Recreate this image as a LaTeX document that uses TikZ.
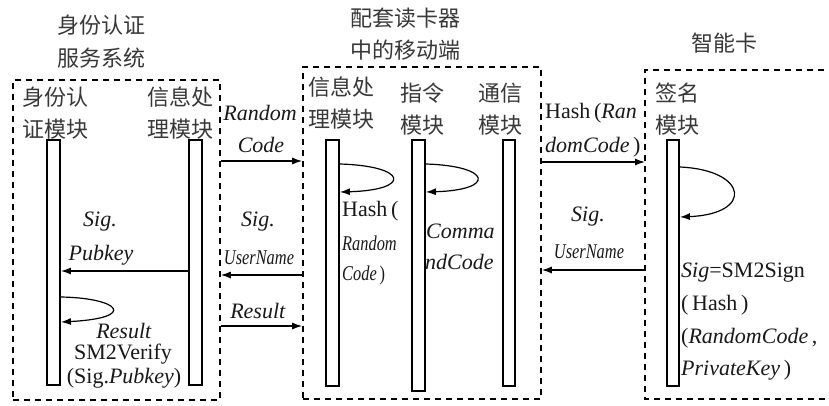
\documentclass[tikz,border=0pt]{standalone}
\usepackage{fontspec}
\setmainfont{Liberation Serif}
\newfontfamily\cjk{Noto Sans CJK SC}
\usetikzlibrary{arrows.meta}
% narrow italic used for the condensed labels
\newcommand{\narrowtext}[1]{\scalebox{0.78}[1]{#1}}

\begin{document}
\begin{tikzpicture}[x=1pt,y=-1pt,
  lifeline/.style={draw, line width=1.8pt, fill=white, rectangle, minimum width=13pt, inner sep=0pt},
  dashbox/.style={draw, line width=1.6pt, dash pattern=on 6pt off 5pt, rectangle, inner sep=0pt},
  msg/.style={line width=1.3pt, -{Latex[length=10pt,width=7pt]}},
  selfloop/.style={line width=1.2pt, -{Latex[length=10pt,width=7pt]}},
  cn/.style={font=\cjk\fontsize{22}{22}\selectfont, inner sep=0pt, text=black!78},
  lbl/.style={font=\fontsize{22}{22}\selectfont, inner sep=0pt, text=black!90},
  lbln/.style={font=\fontsize{21}{21}\selectfont, inner sep=0pt, text=black!90},
]
\useasboundingbox[fill=white] (0,0) rectangle (829,405);

% ---- group frames ----
\node[dashbox, minimum width=207pt, minimum height=320pt] (B1) at (116.5,240) {};
\node[dashbox, minimum width=238pt, minimum height=332pt] (B2) at (422,233) {};
\coordinate (B3nw) at (645,70);
\coordinate (B3sw) at (645,399);
\draw[line width=1.6pt, dash pattern=on 6pt off 5pt] (835,70) -- (B3nw) -- (B3sw) -- (835,399);

% ---- group titles ----
\node[cn] (t1a) at (101,25) {身份认证};
\node[cn] (t1b) at (101,58) {服务系统};
\node[cn] (t2a) at (405,18) {配套读卡器};
\node[cn] (t2b) at (405,50) {中的移动端};
\node[cn] (t3a) at (724,43) {智能卡};

% ---- module names ----
\node[cn, anchor=west] (m1a) at (22,97) {身份认};
\node[cn, anchor=west] (m1b) at (22,129) {证模块};
\node[cn, anchor=west] (m2a) at (147,97) {信息处};
\node[cn, anchor=west] (m2b) at (147,129) {理模块};
\node[cn, anchor=west] (m3a) at (308,87) {信息处};
\node[cn, anchor=west] (m3b) at (308,119) {理模块};
\node[cn, anchor=west] (m4a) at (400,93) {指令};
\node[cn, anchor=west] (m4b) at (400,125) {模块};
\node[cn, anchor=west] (m5a) at (478,93) {通信};
\node[cn, anchor=west] (m5b) at (478,125) {模块};
\node[cn, anchor=west] (m6a) at (655,93) {签名};
\node[cn, anchor=west] (m6b) at (655,125) {模块};

% ---- lifelines ----
\node[lifeline, minimum height=245pt] (L1) at (53.5,262.5) {};
\node[lifeline, minimum height=245pt] (L2) at (195.5,262.5) {};
\node[lifeline, minimum height=246pt] (L3) at (332.5,263) {};
\node[lifeline, minimum height=251pt] (L4) at (418.5,265.5) {};
\node[lifeline, minimum width=12pt, minimum height=246pt] (L5) at (509,263) {};
\node[lifeline, minimum width=12pt, minimum height=246pt] (L6) at (673,263) {};

% ---- messages between groups ----
\draw[msg] (B1.east |- 0,161) -- (B2.west |- 0,161);
\node[lbl] (r1) at (260,113) {\textit{Random}};
\node[lbl] (r2) at (261,145) {\textit{Code}};

\draw[msg] (B2.west |- 0,275) -- (B1.east |- 0,275);
\node[lbl] (s1) at (258,222) {\textit{Sig.}};
\node[lbln] (s2) at (259,258) {\narrowtext{\textit{UserName}}};

\draw[msg] (B1.east |- 0,326) -- (B2.west |- 0,326);
\node[lbl] (res) at (258,311) {\textit{Result}};

\draw[msg] (B2.east |- 0,162) -- (B3nw |- 0,162);
\node[lbl, anchor=west] (h1) at (545,113) {Hash\,(\textit{Ran}};
\node[lbl, anchor=west] (h2) at (545,147) {\textit{domCode}\,)};

\draw[msg] (B3nw |- 0,270) -- (B2.east |- 0,270);
\node[lbl] (s3) at (588,217) {\textit{Sig.}};
\node[lbln] (s4) at (589,252) {\narrowtext{\textit{UserName}}};

% ---- messages inside the authentication service ----
\draw[msg] (L2.west |- 0,271) -- (L1.east |- 0,271);
\node[lbl] (p1) at (100,222) {\textit{Sig.}};
\node[lbl] (p2) at (101,255) {\textit{Pubkey}};

\draw[selfloop] (L1.east |- 0,297) .. controls (120,298) and (138,318) .. (L1.east |- 0,322);
\node[lbl] (v1) at (124,331) {\textit{Result}};
\node[lbl] (v2) at (123,354) {SM2Verify};
\node[lbl] (v3) at (124,378) {(Sig.\textit{Pubkey})};

% ---- self calls in the reader ----
\draw[selfloop] (L3.east |- 0,164) .. controls (408,166) and (412,190) .. (L3.east |- 0,192);
\draw[selfloop] (L4.east |- 0,164) .. controls (492,166) and (496,190) .. (L4.east |- 0,192);
\node[lbl, anchor=west] (k1) at (342,211) {Hash\,(};
\node[lbln, anchor=west] (k2) at (342,243) {\narrowtext{\textit{Random}}};
\node[lbln, anchor=west] (k3) at (342,275) {\narrowtext{\textit{Code}\,)}};
\node[lbl, anchor=west] (c1) at (426,231) {\textit{Comma}};
\node[lbl, anchor=west] (c2) at (425,262) {\textit{ndCode}};

% ---- signing on the card ----
\draw[selfloop] (L6.east |- 0,167) .. controls (748,170) and (754,214) .. (L6.east |- 0,217);
\node[lbl, anchor=west] (g1) at (681,273) {\textit{Sig}=SM2Sign};
\node[lbl, anchor=west] (g2) at (681,305) {(\,Hash\,)};
\node[lbl, anchor=west] (g3) at (681,338) {(\textit{RandomCode}\,,};
\node[lbl, anchor=west] (g4) at (681,370) {\textit{PrivateKey}\,)};
\end{tikzpicture}
\end{document}
